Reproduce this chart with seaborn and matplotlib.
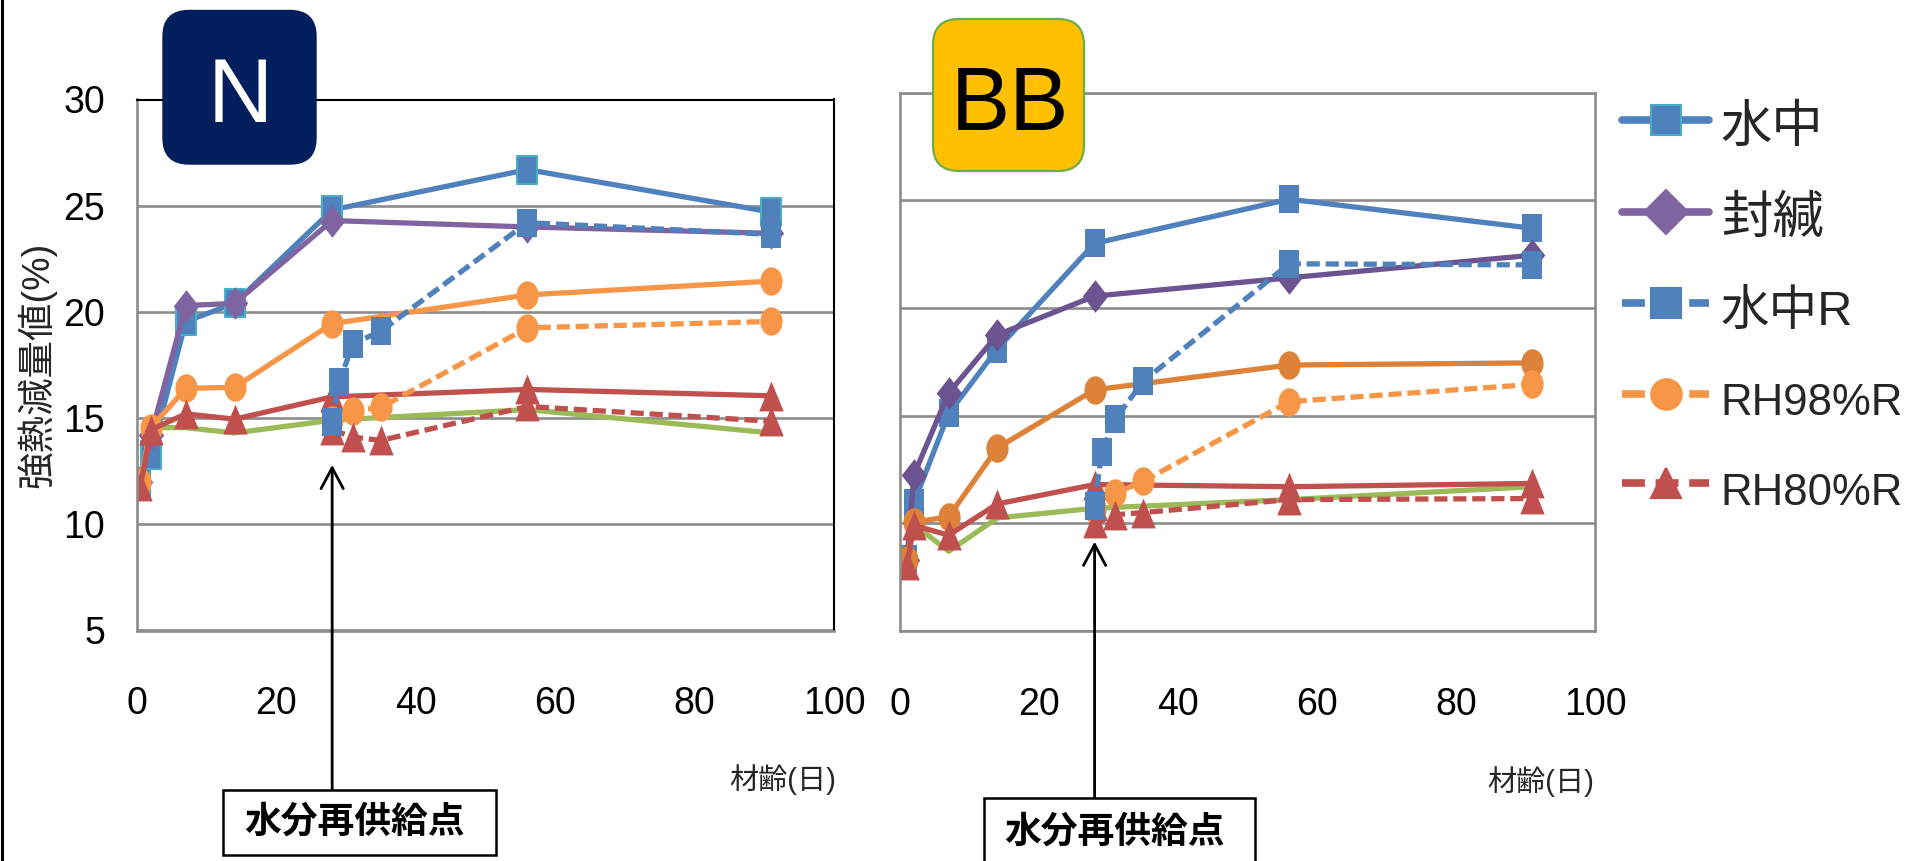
import matplotlib
matplotlib.use("Agg")
import numpy as np
import pandas as pd
import matplotlib.pyplot as plt
import seaborn as sns
from matplotlib.path import Path
from matplotlib.markers import MarkerStyle
from matplotlib.patches import FancyBboxPatch, Rectangle
from matplotlib.lines import Line2D

# ---- data: loss on ignition (%) versus age (days) ----
days_n = [0.5, 2, 7, 14, 28, 56, 91]
days_bb = [1, 2, 7, 14, 28, 56, 91]
days_water_r = [28, 29, 31, 35, 56, 91]
days_rh_r = [28, 31, 35, 56, 91]

n_water = [12.0, 13.25, 19.55, 20.4, 24.8, 26.7, 24.7]
n_sealed = [12.0, 14.2, 20.3, 20.4, 24.3, 24.0, 23.7]
n_air = [12.0, 14.55, 14.55, 14.3, 14.9, 15.4, 14.3]
n_rh98 = [12.0, 14.55, 16.4, 16.45, 19.45, 20.8, 21.45]
n_rh80 = [11.8, 14.45, 15.2, 14.95, 16.0, 16.35, 16.05]
n_water_r = [14.8, 16.7, 18.5, 19.1, 24.2, 23.65]
n_rh98_r = [14.9, 15.35, 15.5, 19.25, 19.55]
n_rh80_r = [14.45, 14.1, 13.95, 15.55, 14.85]

bb_water = [8.35, 10.95, 15.1, 18.1, 23.0, 25.05, 23.7]
bb_sealed = [8.3, 12.25, 16.05, 18.75, 20.55, 21.4, 22.45]
bb_air = [8.3, 9.95, 8.7, 10.25, 10.7, 11.1, 11.7]
bb_rh98 = [8.3, 10.05, 10.3, 13.5, 16.2, 17.35, 17.45]
bb_rh80 = [8.05, 9.9, 9.45, 10.9, 11.8, 11.7, 11.85]
bb_water_r = [10.8, 13.3, 14.85, 16.6, 22.05, 22.0]
bb_rh98_r = [10.6, 11.4, 11.95, 15.65, 16.45]
bb_rh80_r = [10.0, 10.4, 10.5, 11.1, 11.15]

legend_labels = ["水中", "封緘", "水中R", "RH98%R", "RH80%R"]
x_ticks = [0, 20, 40, 60, 80, 100]
y_ticks = [5, 10, 15, 20, 25, 30]
x_label = "材齢(日)"
y_label = "強熱減量値(%)"
note_text = "水分再供給点"
panel_names = ["N", "BB"]

# ---- style ----
sns.set_theme(style="white")
plt.rcParams["font.family"] = ["Liberation Sans Narrow", "Liberation Sans",
                               "Noto Sans CJK JP", "DejaVu Sans"]

BLUE = "#4F81BD"
TEAL = "#4BACC6"
PURPLE = "#8064A2"
PURPLE_D = "#6C5391"
ORANGE = "#F79646"
ORANGE_D = "#DD8238"
RED = "#C0504D"
GREEN = "#9BBB59"
GRID = "#8C8C8C"

LW = 3.8
DASH = (0, (2.5, 1.1))


def tall(verts):
    return MarkerStyle(Path(verts, closed=True))


uc = Path.unit_circle()
M_SQ = tall([(-0.70, -1), (0.70, -1), (0.70, 1), (-0.70, 1), (-0.70, -1)])
M_CI = MarkerStyle(Path(uc.vertices * np.array([0.78, 1.0]), uc.codes))
M_TR = tall([(0, 1), (-0.82, -1), (0.82, -1), (0, 1)])
M_DI = tall([(0, 1), (0.78, 0), (0, -1), (-0.78, 0), (0, 1)])

W, H, DPI = 1917, 861, 100
fig = plt.figure(figsize=(W / DPI, H / DPI), dpi=DPI)
fig.patch.set_facecolor("white")


def px_axes(x0, top, x1, bottom):
    return fig.add_axes([x0 / W, (H - bottom) / H, (x1 - x0) / W, (bottom - top) / H])


ax_n = px_axes(137, 99.5, 834, 630.5)
ax_bb = px_axes(900, 92.6, 1595, 631)


def series(ax, x, y, color, marker=None, ms=20.5, ls="-", mec=None, mew=0):
    df = pd.DataFrame({"age": x, "loi": y})
    kw = dict(color=color, linewidth=LW, linestyle=ls)
    if marker is not None:
        kw.update(marker=marker, markersize=ms, markerfacecolor=color,
                  markeredgecolor=mec if mec else color, markeredgewidth=mew)
    sns.lineplot(data=df, x="age", y="loi", ax=ax, sort=False, estimator=None,
                 errorbar=None, legend=False, **kw)
    return ax.get_lines()[-1]


def panel(ax, d, water, sealed, air, rh98, rh80, water_r, rh98_r, rh80_r,
          purple, orange_solid, water_edge):
    series(ax, d, water, BLUE, M_SQ, mec=water_edge,
           mew=1.5 if water_edge else 0)
    series(ax, d, sealed, purple, M_DI, ms=23.5)
    series(ax, d, air, GREEN)
    series(ax, d, rh98, orange_solid, M_CI)
    series(ax, d, rh80, RED, M_TR, ms=21.5)
    series(ax, days_rh_r, rh98_r, ORANGE, M_CI, ls=DASH)
    series(ax, days_rh_r, rh80_r, RED, M_TR, ms=21.5, ls=DASH)
    series(ax, days_water_r, water_r, BLUE, M_SQ, ls=DASH)

    ax.set_xlim(0, 100)
    ax.set_ylim(5, 30)
    ax.set_xticks(x_ticks)
    ax.set_yticks(y_ticks)
    ax.set_xlabel("")
    ax.set_ylabel("")
    ax.grid(False)
    ax.yaxis.grid(True, color=GRID, linewidth=1.9)
    ax.set_axisbelow(True)
    ax.tick_params(length=0, labelsize=27, colors="black")
    ax.tick_params(axis="x", pad=40)
    ax.tick_params(axis="y", pad=23)
    for s in ax.spines.values():
        s.set_color(GRID)
        s.set_linewidth(1.9)


panel(ax_n, days_n, n_water, n_sealed, n_air, n_rh98, n_rh80,
      n_water_r, n_rh98_r, n_rh80_r, PURPLE, ORANGE, TEAL)
panel(ax_bb, days_bb, bb_water, bb_sealed, bb_air, bb_rh98, bb_rh80,
      bb_water_r, bb_rh98_r, bb_rh80_r, PURPLE_D, ORANGE_D, None)

for side in ("top", "right"):
    ax_n.spines[side].set_color("black")
    ax_n.spines[side].set_linewidth(1.5)
ax_bb.tick_params(labelleft=False)

for ax, xfrac in ((ax_n, 0.927), (ax_bb, 0.922)):
    ax.set_xlabel(x_label, fontsize=21)
    ax.xaxis.set_label_coords(xfrac, -0.251)

fig.text(37 / W, (H - 365) / H, y_label, rotation=90, ha="center",
         va="center", fontsize=27)

# legend to the right of the BB panel (keys drawn a little heavier)
LEG_DASH = (0, (3.0, 1.4))
key_specs = [
    (BLUE, "-", "s", TEAL),
    (PURPLE, "-", "D", PURPLE),
    (BLUE, LEG_DASH, "s", BLUE),
    (ORANGE, LEG_DASH, "o", ORANGE),
    (RED, LEG_DASH, "^", RED),
]
keys = [Line2D([], [], color=c, linestyle=ls, linewidth=5.5, marker=m,
               markersize=22, markerfacecolor=c, markeredgecolor=e,
               markeredgewidth=1.5)
        for c, ls, m, e in key_specs]
leg = fig.legend(keys, legend_labels, loc="upper left",
                 bbox_to_anchor=(1622 / W, (H - 99) / H),
                 frameon=False, fontsize=37, handlelength=1.7,
                 handleheight=1.15, handletextpad=0.22, labelspacing=0.73,
                 borderpad=0, borderaxespad=0)
for t in leg.get_texts():
    if t.get_text().startswith("RH"):
        t.set_fontsize(31.5)
    elif t.get_text().endswith("R"):
        t.set_fontsize(35)

# panel name badges
px = matplotlib.transforms.IdentityTransform()
fig.add_artist(FancyBboxPatch((163, H - 164), 153, 153.5,
                              boxstyle="round,pad=0,rounding_size=26",
                              fc="#001F5C", ec="#001F5C", lw=1, transform=px))
fig.text(240 / W, (H - 122) / H, panel_names[0], ha="center", va="baseline",
         fontsize=65, color="white")
fig.add_artist(FancyBboxPatch((933, H - 171), 151, 152,
                              boxstyle="round,pad=0,rounding_size=26",
                              fc="#FFC000", ec="#70AD47", lw=1.6, transform=px))
fig.text(1010 / W, (H - 130) / H, panel_names[1], ha="center", va="baseline",
         fontsize=64, color="black")

# re-supply notes with arrows
for ax, box_x0, box_x1, box_top, box_bottom, tx, ty, tip in (
        (ax_n, 223, 496, 790, 855, 355, 823, 12.8),
        (ax_bb, 984, 1255, 798, 875, 1115, 833, 9.15)):
    fig.add_artist(Rectangle((box_x0, H - box_bottom), box_x1 - box_x0,
                             box_bottom - box_top, fc="white", ec="black",
                             lw=1.8, transform=px))
    fig.text(tx / W, (H - ty) / H, note_text, ha="center", va="center",
             fontsize=26.5, fontweight="bold", color="black")
    ax.annotate("", xy=(28, tip), xycoords="data",
                xytext=(28, H - box_top), textcoords=("data", "figure pixels"),
                arrowprops=dict(arrowstyle="->,head_length=0.75,head_width=0.4",
                                mutation_scale=20, lw=2.0, color="black",
                                shrinkA=0, shrinkB=0),
                annotation_clip=False)

fig.add_artist(Line2D([1.5 / W, 1.5 / W], [0, 1], transform=fig.transFigure,
                      color="black", lw=2.2))

fig.savefig("out.png", dpi=DPI, facecolor="white")
